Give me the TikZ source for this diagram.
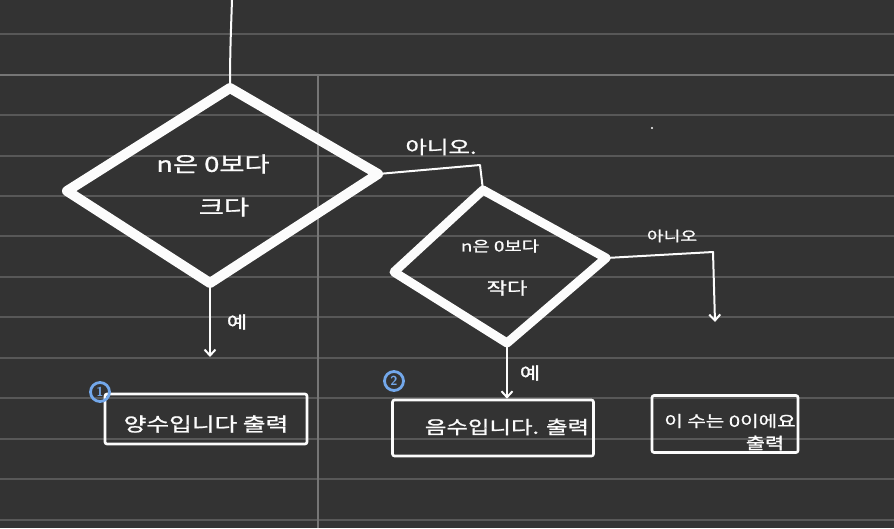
\documentclass[tikz,border=0pt]{standalone}
\usepackage{fontspec}
\newfontfamily\kr[FakeStretch=1.3,FakeBold=1.2]{Noto Sans CJK KR}
\usetikzlibrary{arrows.meta}
\definecolor{bg}{RGB}{51,51,51}
\definecolor{ruleline}{RGB}{88,88,88}
\definecolor{rulehi}{RGB}{118,118,118}
\definecolor{ink}{RGB}{252,252,252}
\definecolor{blueink}{RGB}{115,168,235}
\tikzset{
  ruling/.style={ruleline, line width=1.6pt},
  decision/.style={ink, line width=10pt, line join=round, line cap=round},
  conn/.style={ink, line width=2pt, line join=round, line cap=round},
  arr/.style={conn, -{Straight Barb[length=6pt,width=11pt,line width=2pt]}},
  txt/.style={text=ink, font=\kr\fontsize{#1}{#1}\selectfont, inner sep=0pt},
  outbox/.style={draw=ink, line width=2.6pt, rounded corners=2pt, inner sep=0pt},
  badge/.style={circle, draw=blueink, line width=2.8pt, minimum size=19pt, inner sep=0pt, text=blueink, font=\sffamily\bfseries\fontsize{13}{13}\selectfont}
}
\begin{document}
\begin{tikzpicture}[x=1pt,y=-1pt]
\fill[bg] (0,0) rectangle (894,528);
\useasboundingbox (0,0) rectangle (894,528);
% ruled paper
\foreach \yy in {34,115,156,196,236,277,317,358,398,439,479,520}
  \draw[ruling] (0,\yy) -- (894,\yy);
\draw[rulehi, line width=2.4pt] (0,75) -- (894,75);
\draw[rulehi, line width=1.2pt] (318,75) -- (318,528);
\fill[ink] (652,128) circle (1.2pt);

% decision 1
\coordinate (d1t) at (230,88);
\coordinate (d1r) at (378,174);
\coordinate (d1b) at (210,283);
\coordinate (d1l) at (67,191);
\draw[decision] (d1t) -- (d1r) -- (d1b) -- (d1l) -- cycle;
\node[txt=21] (q1a) at (213,164) {n은 0보다};
\node[txt=21] (q1b) at (224,207) {크다};

% decision 2
\coordinate (d2t) at (483,190);
\coordinate (d2r) at (606,258);
\coordinate (d2b) at (507,343);
\coordinate (d2l) at (394,272);
\draw[decision, line width=9pt] (d2t) -- (d2r) -- (d2b) -- (d2l) -- cycle;
\node[txt=14.5] (q2a) at (500,246) {n은 0보다};
\node[txt=17] (q2b) at (507,288) {작다};

% output boxes
\node[outbox, minimum width=202pt, minimum height=50pt] (o1) at (206,419) {};
\node[txt=19] (o1t) at (206,424) {양수입니다 출력};
\node[outbox, minimum width=201pt, minimum height=56pt] (o2) at (493,428) {};
\node[txt=18] (o2t) at (507,427) {음수입니다. 출력};
\node[outbox, minimum width=146pt, minimum height=57pt] (o3) at (725,424) {};
\node[txt=15.5] (o3a) at (730,421) {이 수는 0이에요};
\node[txt=16] (o3b) at (765,443) {출력};

% badges
\node[badge] (b1) at (100,392) {1};
\node[badge] (b2) at (394,381) {2};

% connectors
\coordinate (top) at (232,0);
\draw[conn] (top) to[out=-92,in=90] (d1t);
\coordinate (a1) at (210,357);
\draw[arr] (d1b) -- (a1);
\node[txt=17] (yes1) at (237,322) {예};
\coordinate (k1) at (480,165);
\draw[conn] (d1r) -- (k1) -- (d2t);
\node[txt=18] (no1) at (441,147) {아니오.};
\coordinate (k2) at (713,252);
\coordinate (a3) at (715,322);
\draw[conn] (d2r) -- (k2);
\draw[arr] (k2) -- (a3);
\node[txt=14] (no2) at (672,236) {아니오};
\draw[arr] (d2b) -- (o2.north -| d2b);
\node[txt=17] (yes2) at (530,373) {예};
\end{tikzpicture}
\end{document}
